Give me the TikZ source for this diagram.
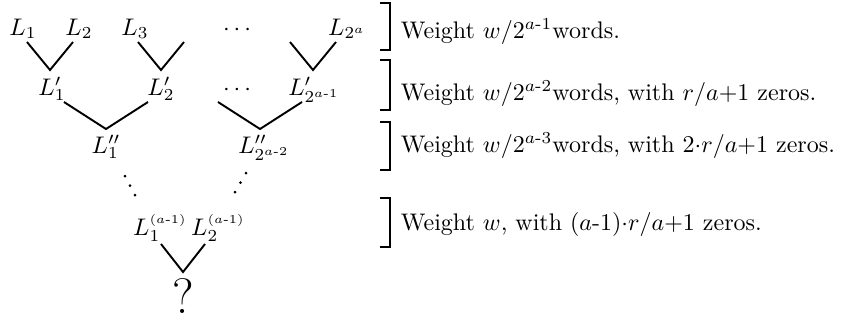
\documentclass[tikz,border=0pt]{standalone}
\usepackage{amsmath}
\newcommand{\hy}{\text{-}}
\begin{document}
\begin{tikzpicture}[x=0.4167pt,y=-0.4167pt,line width=0.8pt,
    every node/.style={inner sep=0pt}]

    \useasboundingbox (0,0) rectangle (858,320);

    % first row
    \node[anchor=base] (l1) at (23,35) {$L_1$};
    \node[anchor=base] (l2) at (79,35) {$L_2$};
    \node[anchor=base] (l3) at (135,35) {$L_3$};
    \node[anchor=base] (dots1) at (239,35) {$\cdots$};
    \node[anchor=base] (l2a) at (347,35) {$L_{2^a}$};

    \foreach \x in {50,161,313}{
        \draw (\x-23,42) -- (\x,70) -- (\x+23,42);
    }

    % second row
    \node[anchor=base] (lp1) at (52,95) {$L'_1$};
    \node[anchor=base] (lp2) at (161,95) {$L'_2$};
    \node[anchor=base] (dots2) at (239,95) {$\cdots$};
    \node[anchor=base] (lpn) at (314,95) {$L'_{2^{a\hy1}}$};

    \foreach \x in {106,260}{
        \draw (\x-42,102) -- (\x,129) -- (\x+42,102);
    }

    % third row
    \node[anchor=base] (lpp1) at (106,153) {$L''_1$};
    \node[anchor=base] (lppn) at (264,153) {$L''_{2^{a\hy2}}$};

    \foreach \t in {0,1,2}{
        \fill (125+5*\t,176+9.5*\t) circle (1.5);
        \fill (246-5.5*\t,173+9.5*\t) circle (1.5);
    }

    % last row
    \node[anchor=base] (lq1) at (160,235) {$L_1^{\scriptscriptstyle(a\hy1)}$};
    \node[anchor=base] (lq2) at (218,235) {$L_2^{\scriptscriptstyle(a\hy1)}$};

    \draw (161,244) -- (183,272) -- (205,244);

    \node[anchor=base, font=\huge] (res) at (183,313) {?};

    % brackets and remarks
    \foreach \a/\b in {3/50,60/110,122/170,198/247}{
        \draw (380,\a) -- (390,\a) -- (390,\b) -- (380,\b);
    }

    \node[anchor=base west] (t1) at (400,38)
        {Weight $w/2^{a\hy1}$words.};
    \node[anchor=base west] (t2) at (400,100)
        {Weight $w/2^{a\hy2}$words, with $r/a{+}1$ zeros.};
    \node[anchor=base west] (t3) at (400,152)
        {Weight $w/2^{a\hy3}$words, with $2{\cdot}r/a{+}1$ zeros.};
    \node[anchor=base west] (t4) at (400,230)
        {Weight $w$, with $(a\hy1){\cdot}r/a{+}1$ zeros.};

\end{tikzpicture}
\end{document}
